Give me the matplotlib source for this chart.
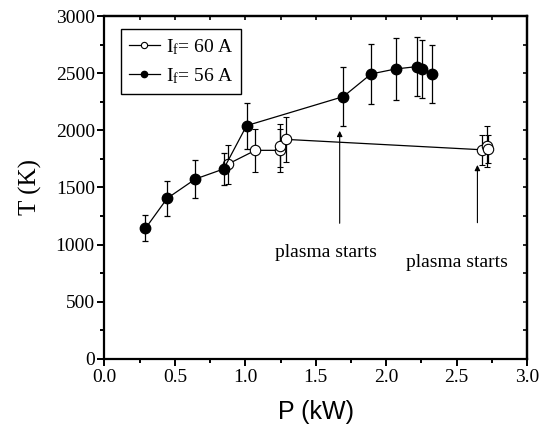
import matplotlib
matplotlib.use('Agg')
import matplotlib.pyplot as plt
from matplotlib.ticker import MultipleLocator

plt.rcParams['font.family'] = 'Liberation Serif'
plt.rcParams['mathtext.fontset'] = 'custom'
plt.rcParams['mathtext.rm'] = 'Liberation Serif'
plt.rcParams['mathtext.it'] = 'Liberation Serif:italic'

# I_f = 60 A (open circles)
p60 = [0.874, 1.071, 1.244, 1.246, 1.286, 2.680, 2.713, 2.725]
t60 = [1703, 1825, 1825, 1866, 1921, 1830, 1860, 1835]
e60 = [170, 187, 190, 190, 195, 130, 180, 120]

# I_f = 56 A (filled circles)
p56 = [0.291, 0.445, 0.645, 0.846, 1.009, 1.696, 1.893, 2.068, 2.217, 2.258, 2.322]
t56 = [1143, 1405, 1574, 1662, 2041, 2295, 2493, 2537, 2557, 2537, 2493]
e56 = [115, 155, 165, 140, 200, 260, 265, 270, 260, 250, 250]

# "plasma starts" arrows: x, tail, head; and label positions
arrow_x = [1.67, 2.648]
arrow_tail = [1187, 1192]
arrow_head = [1995, 1697]
label_x = [1.57, 2.50]
label_y = [930, 840]

fig = plt.figure(figsize=(5.42, 4.29), dpi=100)
ax = fig.add_axes([0.1928, 0.1632, 0.7795, 0.7995])

c60 = ax.errorbar(p60, t60, yerr=e60, fmt='-o', color='black', mfc='white', mec='black',
                  ms=7.5, mew=0.8, lw=0.9, elinewidth=0.9, capsize=2.5, capthick=0.9,
                  zorder=3)
c56 = ax.errorbar(p56, t56, yerr=e56, fmt='-o', color='black', mfc='black', mec='black',
                  ms=7.5, lw=0.9, elinewidth=0.9, capsize=2.5, capthick=0.9,
                  zorder=4)

for x, y0, y1 in zip(arrow_x, arrow_tail, arrow_head):
    ax.annotate('', xy=(x, y1), xytext=(x, y0),
                arrowprops=dict(arrowstyle='-|>', lw=0.8, color='black', mutation_scale=8,
                                shrinkA=0, shrinkB=0))
for x, y in zip(label_x, label_y):
    ax.text(x, y, 'plasma starts', ha='center', va='center', fontsize=14)

ax.set_xlim(0, 3.0)
ax.set_ylim(0, 3000)
ax.xaxis.set_major_locator(MultipleLocator(0.5))
ax.xaxis.set_minor_locator(MultipleLocator(0.25))
ax.yaxis.set_major_locator(MultipleLocator(500))
ax.yaxis.set_minor_locator(MultipleLocator(250))
ax.xaxis.set_major_formatter(plt.FormatStrFormatter('%.1f'))

for s in ax.spines.values():
    s.set_linewidth(1.6)
ax.tick_params(which='major', direction='out', length=5, width=1.4, labelsize=14, pad=2)
ax.tick_params(which='minor', direction='out', length=3, width=1.4)
ax.tick_params(which='both', top=False, right=False)

# inward ticks on top and right
sec_x = ax.secondary_xaxis('top')
sec_x.xaxis.set_major_locator(MultipleLocator(0.25))
sec_x.tick_params(direction='in', length=3, width=1.2, labeltop=False)
sec_x.spines['top'].set_linewidth(1.6)
sec_y = ax.secondary_yaxis('right')
sec_y.yaxis.set_major_locator(MultipleLocator(250))
sec_y.tick_params(direction='in', length=3, width=1.2, labelright=False)
sec_y.spines['right'].set_linewidth(1.6)

ax.set_xlabel('P (kW)', family='Liberation Sans', fontsize=18, labelpad=10)
ax.set_ylabel('T (K)', fontsize=18, labelpad=10)

leg = ax.legend([c60[0], c56[0]], ['I$_{\\mathrm{f}}$= 60 A', 'I$_{\\mathrm{f}}$= 56 A'],
                loc='upper left', bbox_to_anchor=(0.039, 0.962), borderaxespad=0,
                fontsize=14, markerscale=0.6, handlelength=1.6, handletextpad=0.3,
                fancybox=False, edgecolor='black', framealpha=1, borderpad=0.4,
                labelspacing=0.5)
leg.get_frame().set_linewidth(1.0)

fig.savefig('out.png', dpi=100)
